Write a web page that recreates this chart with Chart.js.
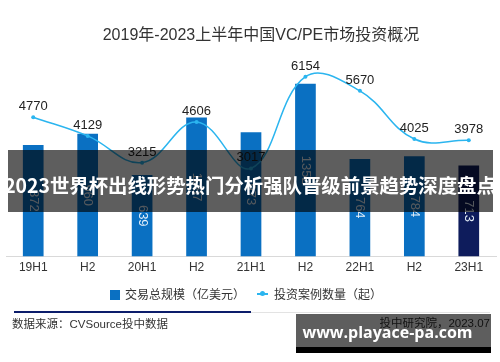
<!DOCTYPE html>
<html><head><meta charset="utf-8">
<script src="https://cdn.jsdelivr.net/npm/chart.js@4"></script>
<style>
html,body{margin:0;padding:0;background:#fff;width:500px;height:362px;overflow:hidden;font-family:"Liberation Sans","Noto Sans CJK SC",sans-serif;}
#wrap{position:relative;width:500px;height:362px;}
#c{position:absolute;left:0;top:0;}
.abs{position:absolute;white-space:nowrap;}
#title{left:0;width:522px;top:25px;text-align:center;font-size:16px;color:#333;line-height:20px;}
#legend{left:110px;top:287px;font-size:12px;color:#333;line-height:16px;}
#legend .sq{display:inline-block;width:10px;height:10px;background:#0a70c2;vertical-align:-1px;margin-right:5px;}
#legend .ln{display:inline-block;width:11px;height:2px;background:#2bb5ef;vertical-align:4px;margin-left:12px;margin-right:6px;position:relative;}
#legend .ln i{position:absolute;left:3px;top:-2px;width:5px;height:5px;border-radius:50%;background:#2bb5ef;}
#ruleA{left:14px;top:311px;width:237px;height:2px;background:#0c1d6b;}
#ruleB{left:251px;top:312px;width:239px;height:1px;background:#e3e3e3;}
#src{left:12px;top:316px;font-size:11.5px;color:#333;line-height:16px;}
#org{right:10px;top:315px;font-size:11.5px;color:#333;line-height:16px;}
#banner{left:8px;top:150px;width:485px;height:62px;background:rgba(0,0,0,0.63);}
#btext{left:0;width:500px;top:170px;text-align:center;font-family:"Noto Sans CJK SC",sans-serif;font-weight:bold;font-size:19.4px;line-height:30px;color:#fff;}
#wm{left:296px;top:314px;width:195px;height:33px;background:rgba(0,0,0,0.63);}
#wm2{left:296px;top:347px;width:195px;height:6px;background:#000;}
#wmt{left:290px;width:195px;top:321px;text-align:center;font-family:"Open Sans",sans-serif;font-weight:bold;font-size:16px;line-height:22px;color:#fff;}
</style></head>
<body><div id="wrap">
<canvas id="c" width="500" height="362"></canvas>
<div id="title" class="abs">2019年-2023上半年中国VC/PE市场投资概况</div>
<div id="legend" class="abs"><span class="sq"></span>交易总规模（亿美元）<span class="ln"><i></i></span>投资案例数量（起）</div>
<div id="ruleA" class="abs"></div>
<div id="ruleB" class="abs"></div>
<div id="src" class="abs">数据来源：CVSource投中数据</div>
<div id="org" class="abs">投中研究院，2023.07</div>
<div id="banner" class="abs"></div>
<div id="btext" class="abs">2023世界杯出线形势热门分析强队晋级前景趋势深度盘点</div>
<div id="wm" class="abs"></div>
<div id="wm2" class="abs"></div>
<div id="wmt" class="abs">www.playace-pa.com</div>
</div>
<script>
const periods = ['19H1','H2','20H1','H2','21H1','H2','22H1','H2','23H1'];
const dealValue = [872, 960, 639, 1087, 973, 1352, 764, 784, 713];
const caseCount = [4770, 4129, 3215, 4606, 3017, 6154, 5670, 4025, 3978];
const barColors = ['#0a70c2','#0a70c2','#0a70c2','#0a70c2','#0a70c2','#0a70c2','#0a70c2','#0a70c2','#0e1c5c'];

const labelPlugin = {
  id: 'valueLabels',
  afterDatasetsDraw(chart) {
    const ctx = chart.ctx;
    ctx.save();
    const barMeta = chart.getDatasetMeta(0);
    ctx.font = '13px "Liberation Sans", sans-serif';
    ctx.fillStyle = '#e6f0fa';
    ctx.textAlign = 'center';
    ctx.textBaseline = 'middle';
    barMeta.data.forEach((el, i) => {
      const p = el.getProps(['x', 'y', 'base'], true);
      ctx.save();
      ctx.translate(p.x, (p.y + p.base) / 2);
      ctx.rotate(Math.PI / 2);
      ctx.fillText(String(dealValue[i]), 0, 0);
      ctx.restore();
    });
    const lineMeta = chart.getDatasetMeta(1);
    ctx.fillStyle = '#222';
    ctx.textBaseline = 'alphabetic';
    lineMeta.data.forEach((el, i) => {
      ctx.fillText(String(caseCount[i]), el.x, el.y - 7);
    });
    ctx.restore();
  }
};

new Chart(document.getElementById('c'), {
  type: 'bar',
  data: {
    labels: periods,
    datasets: [
      {
        type: 'bar',
        label: '交易总规模（亿美元）',
        data: dealValue,
        backgroundColor: barColors,
        yAxisID: 'y',
        order: 1,
        categoryPercentage: 1,
        barPercentage: 0.38
      },
      {
        type: 'line',
        label: '投资案例数量（起）',
        data: caseCount,
        borderColor: '#2bb5ef',
        backgroundColor: '#2bb5ef',
        borderWidth: 1.5,
        pointRadius: 2,
        pointBorderWidth: 0,
        tension: 0.4,
        yAxisID: 'y1',
        order: 0
      }
    ]
  },
  options: {
    responsive: false,
    animation: false,
    devicePixelRatio: 1,
    layout: { padding: { left: 6, right: 1, top: 52, bottom: 83 } },
    plugins: { legend: { display: false }, title: { display: false }, tooltip: { enabled: false } },
    scales: {
      x: {
        grid: { display: false, drawTicks: false },
        border: { display: true, color: '#d9d9d9', width: 1 },
        ticks: { color: '#333', padding: 4, font: { size: 12, family: '"Liberation Sans", sans-serif' }, maxRotation: 0, autoSkip: false }
      },
      y: { display: false, min: 0, max: 1600 },
      y1: { display: false, min: 0, max: 7000, position: 'right' }
    }
  },
  plugins: [labelPlugin]
});
</script>
</body></html>
